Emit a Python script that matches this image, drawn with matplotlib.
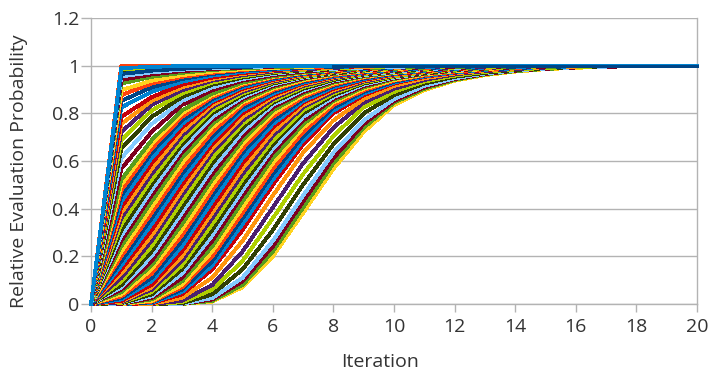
import matplotlib
matplotlib.use("Agg")
import matplotlib.pyplot as plt

iterations = list(range(21))
y_ticks = [0, 0.2, 0.4, 0.6, 0.8, 1.0, 1.2]
y_tick_labels = ["0", "0.2", "0.4", "0.6", "0.8", "1", "1.2"]
x_ticks = [0, 2, 4, 6, 8, 10, 12, 14, 16, 18, 20]

# special top lines
top_red = [0, 1, 1, 1, 1, 1, 1, 1, 1, 1, 1, 1, 1, 1, 1, 1, 1, 1, 1, 1, 1]
top_blue = [0, .99, .995, .998, 1, 1, 1, 1, 1, 1, 1, 1, 1, 1, 1, 1, 1, 1, 1, 1, 1]

# fast curves (high value at iteration 1)
t01 = [0, .985, .991, .995, .998, 1, 1, 1, 1, 1, 1, 1, 1, 1, 1, 1, 1, 1, 1, 1, 1]
t02 = [0, .975, .985, .991, .995, .998, 1, 1, 1, 1, 1, 1, 1, 1, 1, 1, 1, 1, 1, 1, 1]
t03 = [0, .965, .979, .987, .992, .995, .998, 1, 1, 1, 1, 1, 1, 1, 1, 1, 1, 1, 1, 1, 1]
t04 = [0, .955, .972, .983, .989, .994, .997, .999, 1, 1, 1, 1, 1, 1, 1, 1, 1, 1, 1, 1, 1]
t05 = [0, .94, .963, .977, .986, .992, .996, .998, 1, 1, 1, 1, 1, 1, 1, 1, 1, 1, 1, 1, 1]
t06 = [0, .925, .953, .97, .982, .989, .994, .997, 1, 1, 1, 1, 1, 1, 1, 1, 1, 1, 1, 1, 1]
t07 = [0, .897, .937, .96, .975, .985, .991, .995, .998, 1, 1, 1, 1, 1, 1, 1, 1, 1, 1, 1, 1]
t08 = [0, .876, .925, .953, .97, .982, .989, .994, .997, 1, 1, 1, 1, 1, 1, 1, 1, 1, 1, 1, 1]
t09 = [0, .852, .909, .944, .965, .979, .987, .992, .995, .998, 1, 1, 1, 1, 1, 1, 1, 1, 1, 1, 1]
t10 = [0, .825, .89, .933, .958, .974, .984, .99, .995, .997, 1, 1, 1, 1, 1, 1, 1, 1, 1, 1, 1]
t11 = [0, .785, .868, .92, .95, .969, .981, .989, .994, .997, .999, 1, 1, 1, 1, 1, 1, 1, 1, 1, 1]
t12 = [0, .755, .852, .909, .944, .965, .979, .987, .992, .995, .998, 1, 1, 1, 1, 1, 1, 1, 1, 1, 1]
t13 = [0, .722, .835, .897, .937, .96, .975, .985, .991, .995, .998, 1, 1, 1, 1, 1, 1, 1, 1, 1, 1]
t14 = [0, .687, .812, .883, .929, .955, .972, .983, .989, .994, .997, .999, 1, 1, 1, 1, 1, 1, 1, 1, 1]
t15 = [0, .652, .785, .868, .92, .95, .969, .981, .989, .994, .997, .999, 1, 1, 1, 1, 1, 1, 1, 1, 1]
t16 = [0, .612, .755, .852, .909, .944, .965, .979, .987, .992, .995, .998, 1, 1, 1, 1, 1, 1, 1, 1, 1]
t17 = [0, .567, .722, .835, .897, .937, .96, .975, .985, .991, .995, .998, 1, 1, 1, 1, 1, 1, 1, 1, 1]
t18 = [0, .522, .687, .812, .883, .929, .955, .972, .983, .989, .994, .997, .999, 1, 1, 1, 1, 1, 1, 1, 1]

# middle curves
m01 = [0, .5, .67, .8, .876, .925, .953, .97, .982, .989, .994, .997, 1, 1, 1, 1, 1, 1, 1, 1, 1]
m02 = [0, .477, .652, .785, .868, .92, .95, .969, .981, .989, .994, .997, .999, 1, 1, 1, 1, 1, 1, 1, 1]
m03 = [0, .455, .635, .77, .86, .915, .947, .967, .98, .988, .993, .996, .998, 1, 1, 1, 1, 1, 1, 1, 1]
m04 = [0, .43, .612, .755, .852, .909, .944, .965, .979, .987, .992, .995, .998, 1, 1, 1, 1, 1, 1, 1, 1]
m05 = [0, .405, .59, .74, .845, .903, .94, .963, .977, .986, .992, .996, .998, 1, 1, 1, 1, 1, 1, 1, 1]
m06 = [0, .382, .567, .722, .835, .897, .937, .96, .975, .985, .991, .995, .998, 1, 1, 1, 1, 1, 1, 1, 1]
m07 = [0, .36, .545, .705, .825, .89, .933, .958, .974, .984, .99, .995, .997, 1, 1, 1, 1, 1, 1, 1, 1]
m08 = [0, .335, .522, .687, .812, .883, .929, .955, .972, .983, .989, .994, .997, .999, 1, 1, 1, 1, 1, 1, 1]
m09 = [0, .31, .5, .67, .8, .876, .925, .953, .97, .982, .989, .994, .997, 1, 1, 1, 1, 1, 1, 1, 1]
m10 = [0, .287, .477, .652, .785, .868, .92, .95, .969, .981, .989, .994, .997, .999, 1, 1, 1, 1, 1, 1, 1]
m11 = [0, .265, .455, .635, .77, .86, .915, .947, .967, .98, .988, .993, .996, .998, 1, 1, 1, 1, 1, 1, 1]
m12 = [0, .242, .43, .612, .755, .852, .909, .944, .965, .979, .987, .992, .995, .998, 1, 1, 1, 1, 1, 1, 1]
m13 = [0, .22, .405, .59, .74, .845, .903, .94, .963, .977, .986, .992, .996, .998, 1, 1, 1, 1, 1, 1, 1]
m14 = [0, .2, .382, .567, .722, .835, .897, .937, .96, .975, .985, .991, .995, .998, 1, 1, 1, 1, 1, 1, 1]
m15 = [0, .18, .36, .545, .705, .825, .89, .933, .958, .974, .984, .99, .995, .997, 1, 1, 1, 1, 1, 1, 1]
m16 = [0, .162, .335, .522, .687, .812, .883, .929, .955, .972, .983, .989, .994, .997, .999, 1, 1, 1, 1, 1, 1]
m17 = [0, .145, .31, .5, .67, .8, .876, .925, .953, .97, .982, .989, .994, .997, 1, 1, 1, 1, 1, 1, 1]
m18 = [0, .127, .287, .477, .652, .785, .868, .92, .95, .969, .981, .989, .994, .997, .999, 1, 1, 1, 1, 1, 1]
m19 = [0, .11, .265, .455, .635, .77, .86, .915, .947, .967, .98, .988, .993, .996, .998, 1, 1, 1, 1, 1, 1]
m20 = [0, .095, .242, .43, .612, .755, .852, .909, .944, .965, .979, .987, .992, .995, .998, 1, 1, 1, 1, 1, 1]
m21 = [0, .08, .22, .405, .59, .74, .845, .903, .94, .963, .977, .986, .992, .996, .998, 1, 1, 1, 1, 1, 1]
m22 = [0, .07, .2, .382, .567, .722, .835, .897, .937, .96, .975, .985, .991, .995, .998, 1, 1, 1, 1, 1, 1]
m23 = [0, .06, .18, .36, .545, .705, .825, .89, .933, .958, .974, .984, .99, .995, .997, 1, 1, 1, 1, 1, 1]
m24 = [0, .05, .162, .335, .522, .687, .812, .883, .929, .955, .972, .983, .989, .994, .997, .999, 1, 1, 1, 1, 1]
m25 = [0, .04, .145, .31, .5, .67, .8, .876, .925, .953, .97, .982, .989, .994, .997, 1, 1, 1, 1, 1, 1]
m26 = [0, .032, .127, .287, .477, .652, .785, .868, .92, .95, .969, .981, .989, .994, .997, .999, 1, 1, 1, 1, 1]
m27 = [0, .025, .11, .265, .455, .635, .77, .86, .915, .947, .967, .98, .988, .993, .996, .998, 1, 1, 1, 1, 1]
m28 = [0, .019, .095, .242, .43, .612, .755, .852, .909, .944, .965, .979, .987, .992, .995, .998, 1, 1, 1, 1, 1]
m29 = [0, .013, .08, .22, .405, .59, .74, .845, .903, .94, .963, .977, .986, .992, .996, .998, 1, 1, 1, 1, 1]
m30 = [0, .01, .07, .2, .382, .567, .722, .835, .897, .937, .96, .975, .985, .991, .995, .998, 1, 1, 1, 1, 1]
m31 = [0, .007, .06, .18, .36, .545, .705, .825, .89, .933, .958, .974, .984, .99, .995, .997, 1, 1, 1, 1, 1]
m32 = [0, .005, .05, .162, .335, .522, .687, .812, .883, .929, .955, .972, .983, .989, .994, .997, .999, 1, 1, 1, 1]
m33 = [0, .003, .04, .145, .31, .5, .67, .8, .876, .925, .953, .97, .982, .989, .994, .997, 1, 1, 1, 1, 1]
m34 = [0, .002, .032, .127, .287, .477, .652, .785, .868, .92, .95, .969, .981, .989, .994, .997, .999, 1, 1, 1, 1]
m35 = [0, .001, .025, .11, .265, .455, .635, .77, .86, .915, .947, .967, .98, .988, .993, .996, .998, 1, 1, 1, 1]
m36 = [0, .001, .019, .095, .242, .43, .612, .755, .852, .909, .944, .965, .979, .987, .992, .995, .998, 1, 1, 1, 1]
m37 = [0, 0, .013, .08, .22, .405, .59, .74, .845, .903, .94, .963, .977, .986, .992, .996, .998, 1, 1, 1, 1]
m38 = [0, 0, .01, .07, .2, .382, .567, .722, .835, .897, .937, .96, .975, .985, .991, .995, .998, 1, 1, 1, 1]
m39 = [0, 0, .007, .06, .18, .36, .545, .705, .825, .89, .933, .958, .974, .984, .99, .995, .997, 1, 1, 1, 1]
m40 = [0, 0, .005, .05, .162, .335, .522, .687, .812, .883, .929, .955, .972, .983, .989, .994, .997, .999, 1, 1, 1]
m41 = [0, 0, .003, .04, .145, .31, .5, .67, .8, .876, .925, .953, .97, .982, .989, .994, .997, 1, 1, 1, 1]

# late curves
l01 = [0, 0, .001, .025, .11, .265, .455, .635, .77, .86, .915, .947, .967, .98, .988, .993, .996, .998, 1, 1, 1]
l02 = [0, 0, 0, .013, .08, .22, .405, .59, .74, .845, .903, .94, .963, .977, .986, .992, .996, .998, 1, 1, 1]
l03 = [0, 0, 0, .007, .06, .18, .36, .545, .705, .825, .89, .933, .958, .974, .984, .99, .995, .997, 1, 1, 1]
l04 = [0, 0, 0, .003, .04, .145, .31, .5, .67, .8, .876, .925, .953, .97, .982, .989, .994, .997, 1, 1, 1]
l05 = [0, 0, 0, .001, .025, .11, .265, .455, .635, .77, .86, .915, .947, .967, .98, .988, .993, .996, .998, 1, 1]
l06 = [0, 0, 0, .001, .019, .095, .242, .43, .612, .755, .852, .909, .944, .965, .979, .987, .992, .995, .998, 1, 1]
l07 = [0, 0, 0, 0, .013, .08, .22, .405, .59, .74, .845, .903, .94, .963, .977, .986, .992, .996, .998, 1, 1]
l08 = [0, 0, 0, 0, .01, .07, .2, .382, .567, .722, .835, .897, .937, .96, .975, .985, .991, .995, .998, 1, 1]

series_top_down = [t01, t02, t04, t05, t06, t07, t08, t09, t10, t11, t12,
                   t13, t14, t15, t16, t17, t18,
                   m01, m02, m03, m04, m05, m06, m07, m08, m09, m10, m11, m12,
                   m13, m14, m15, m16, m17, m18, m19, m20, m21, m22, m23, m24,
                   m25, m26, m27, m28, m29, m30, m31, m32, m33, m34, m35, m36,
                   m37, m38, m39, m40, m41,
                   l01, l02, l03, l04, l05, l06, l07, l08]

for i, s in enumerate(series_top_down + [t03]):
    if len(s) != len(iterations):
        raise ValueError(f"series {i} has length {len(s)}")

palette = ['#004586', '#ff420e', '#ffd320', '#579d1c', '#7e0021', '#83caff',
           '#314004', '#aecf00', '#4b1f6f', '#ff950e', '#c5000b', '#0084d1']

plt.rcParams['font.family'] = ['Open Sans', 'DejaVu Sans']
text_color = '#333333'
grid_color = '#b3b3b3'
line_w = 2.0

fig = plt.figure(figsize=(7.09, 3.71), dpi=100)
ax = fig.add_axes([91 / 709, 67 / 371, 606 / 709, 286 / 371])

series_bottom_up = series_top_down[::-1]
for j, s in enumerate(series_bottom_up):
    ax.plot(iterations, s, color=palette[(j + 2) % 12], lw=line_w,
            antialiased=False, clip_on=False, zorder=3)
ax.plot(iterations, top_red, color='#ff420e', lw=line_w, antialiased=False,
        clip_on=False, zorder=3)
ax.plot(iterations, t03, color='#004586', lw=line_w, antialiased=False,
        clip_on=False, zorder=3)
ax.plot(iterations, top_blue, color='#0084d1', lw=line_w, antialiased=False,
        clip_on=False, zorder=3)
# the dark-blue line seen on top along y = 1 at the right
ax.plot(iterations[8:], t03[8:], color='#004586', lw=line_w,
        antialiased=False, clip_on=False, zorder=3)

ax.set_xlim(0, 20)
ax.set_ylim(0, 1.2)
ax.set_xticks(x_ticks)
ax.set_xticklabels([str(v) for v in x_ticks])
ax.set_yticks(y_ticks)
ax.set_yticklabels(y_tick_labels)

ax.grid(axis='y', color=grid_color, lw=1.0, zorder=0)
ax.set_axisbelow(True)
for side in ['left', 'bottom', 'right']:
    ax.spines[side].set_color(grid_color)
    ax.spines[side].set_linewidth(1.0)
ax.spines['top'].set_visible(False)

ax.tick_params(axis='y', length=7, width=1.0, color=grid_color, pad=1.5,
               labelsize=14, labelcolor=text_color)
ax.tick_params(axis='x', length=6, width=1.0, color=grid_color, pad=4,
               labelsize=14, labelcolor=text_color)

fig.text(19 / 709, 1 - 171.5 / 371, 'Relative Evaluation Probability',
         rotation=90, ha='center', va='center', fontsize=14, color=text_color)
fig.text(380 / 709, 1 - 362 / 371, 'Iteration', ha='center', va='center',
         fontsize=14, color=text_color)

fig.savefig('out.png', dpi=100)
